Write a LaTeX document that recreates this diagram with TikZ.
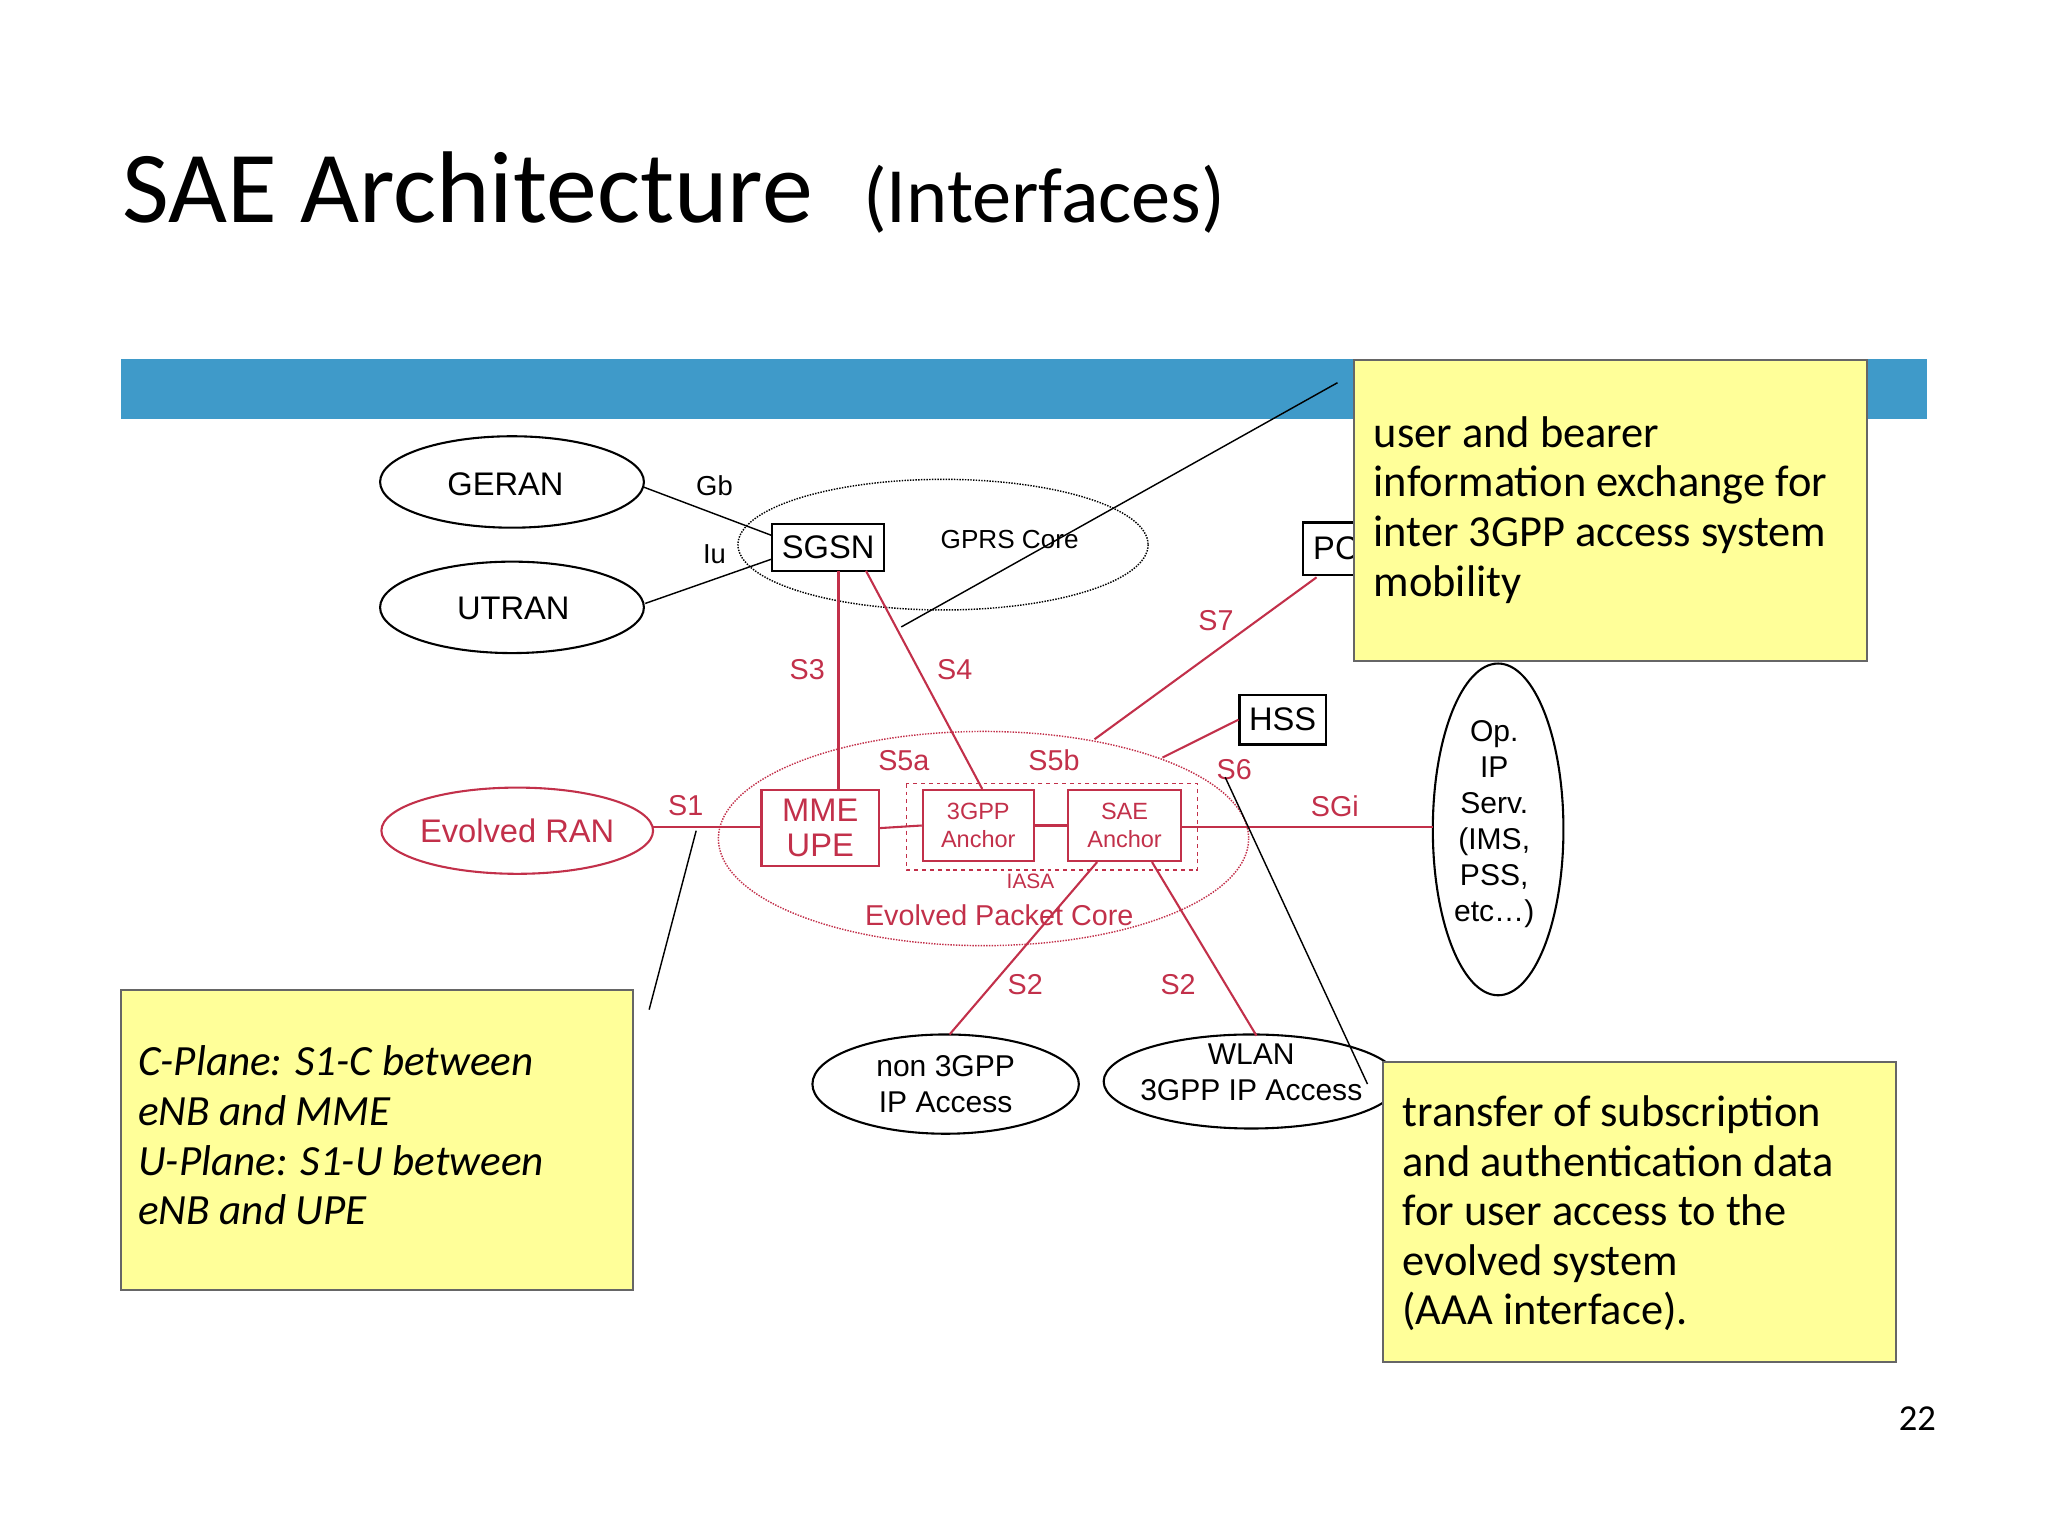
\documentclass[tikz,border=0pt]{standalone}
\usepackage{fontspec}
\setmainfont{Liberation Sans}
\newfontfamily\callf{Carlito}
\begin{document}
\begin{tikzpicture}[x=1pt,y=-1pt,line width=1.6pt]
\definecolor{rd}{HTML}{C2304A}
\definecolor{yl}{HTML}{FFFF99}
\definecolor{bl}{HTML}{3F9AC9}
\tikzset{
 rl/.style={rd,line width=1.6pt},
 thin1/.style={line width=1.1pt},
 bx/.style={draw,inner sep=2pt},
 rbx/.style={draw=rd,text=rd,align=center,inner sep=0pt},
 lab/.style={font=\fontsize{21}{21}\selectfont},
 rlab/.style={font=\fontsize{22}{22}\selectfont,text=rd},
 call/.style={draw=black!60,fill=yl,line width=1.5pt,anchor=north west,inner sep=0pt},
 ctext/.style={font=\callf\fontsize{34}{38}\selectfont,anchor=north west,align=left,inner sep=0pt}
}
\useasboundingbox (0,0) rectangle (1568,1176);
\node[anchor=base west,inner sep=0,font=\callf\fontsize{78}{78}\selectfont] (title) at (93,170) {SAE Architecture};
\node[anchor=base west,inner sep=0,font=\callf\fontsize{60}{60}\selectfont] (sub) at (660,170) {(Interfaces)};
\fill[bl] (93,275) rectangle (1475,321);
% GPRS core
\draw[densely dotted,thin1] (722,417) ellipse (157 and 50);
\node[font=\fontsize{20}{20}\selectfont] (gprs) at (773,413) {GPRS Core};
\draw (392,369) ellipse (101 and 35); \node[font=\fontsize{25}{25}\selectfont] (geran) at (387,371) {GERAN};
\draw (392,465) ellipse (101 and 35); \node[font=\fontsize{25}{25}\selectfont] (utran) at (393,466) {UTRAN};
\node[bx,minimum width=86,minimum height=36,font=\fontsize{25}{25}\selectfont] (sgsn) at (634,419) {SGSN};
\draw[thin1] (493,373) -- (591,410); \draw[thin1] (494,462) -- (591,428);
\node[lab] (gb) at (547,372) {Gb}; \node[lab] (iu) at (547,424) {Iu};
\node[bx,minimum width=44,minimum height=40,font=\fontsize{25}{25}\selectfont,anchor=west,inner sep=0pt] (pc) at (997,420) {\hspace*{6pt}PC};
\node[bx,minimum width=66,minimum height=38,font=\fontsize{25}{25}\selectfont] (hss) at (982,551) {HSS};
% EPC
\draw[rd,densely dotted,thin1] (753,642) ellipse (203 and 82);
\node[rlab] (epc) at (765,701) {Evolved Packet Core};
\draw[rd] (396,636) ellipse (104 and 33); \node[font=\fontsize{25}{25}\selectfont,text=rd] (eran) at (396,636) {Evolved RAN};
\coordinate (eranE) at (500,633);
\node[rbx,minimum width=90,minimum height=58,font=\fontsize{25}{27}\selectfont] (mme) at (628,634) {MME\\UPE};
\draw[rd,dashed,thin1] (694,600) rectangle (917,666);
\node[rlab,font=\fontsize{16}{16}\selectfont] (iasa) at (789,675) {IASA};
\node[rbx,minimum width=85,minimum height=55,font=\fontsize{18}{21}\selectfont] (a3) at (749,632) {3GPP\\Anchor};
\node[rbx,minimum width=87,minimum height=55,font=\fontsize{18}{21}\selectfont] (sae) at (861,632) {SAE\\Anchor};
\draw[rl] (eranE) -- (mme.west |- eranE); \node[rlab] (s1) at (525,617) {S1};
\draw[rl] (mme.east) -- (a3.west); \draw[rl] (a3.east) -- (sae.west);
\node[rlab] (s5a) at (692,582) {S5a}; \node[rlab] (s5b) at (807,582) {S5b};
\draw[rl] (642,437) -- (642,605); \draw[rl] (663,437) -- (752,604);
\node[rlab] (s3) at (618,513) {S3}; \node[rlab] (s4) at (731,513) {S4};
\draw[rl] (1008,442) -- (838,566); \node[rlab] (s7) at (931,475) {S7};
\draw[rl] (hss.west) -- (890,580); \node[rlab] (s6) at (945,589) {S6};
% Op IP
\draw (1147,635) ellipse (50 and 127);
\node[align=center,font=\fontsize{23}{27.5}\selectfont] (op) at (1144,631) {Op.\\IP\\Serv.\\(IMS,\\PSS,\\etc\ldots)};
\draw[rl] (sae.east |- 633,633) -- (1097,633); \node[rlab] (sgi) at (1022,617) {SGi};
% access
\draw (724,830) ellipse (102 and 38);
\node[align=center,font=\fontsize{23}{28}\selectfont] (n3) at (724,830) {non 3GPP\\IP Access};
\draw (958,828) ellipse (113 and 36);
\node[align=center,font=\fontsize{23}{28}\selectfont] (wlan) at (958,821) {WLAN\\3GPP IP Access};
\draw[rl] (840,660) -- (727,792); \draw[rl] (882,660) -- (962,793);
\node[rlab] (s2a) at (785,754) {S2}; \node[rlab] (s2b) at (902,754) {S2};
% callout lines
\draw[thin1] (1024,293) -- (690,480);
\draw[thin1] (938,595) -- (1047,830);
\draw[thin1] (533,636) -- (497,773);
% callouts
\node[call,minimum width=393,minimum height=230] (c1) at (1036,275) {};
\node[ctext] (c1t) at (1051,318) {user and bearer\\information exchange for\\inter 3GPP access system\\mobility};
\node[call,minimum width=392,minimum height=230] (c2) at (92,757) {};
\node[ctext,font=\callf\itshape\fontsize{33}{38}\selectfont] (c2t) at (105,800) {C-Plane: S1-C between\\eNB and MME\\U-Plane: S1-U between\\eNB and UPE};
\node[call,minimum width=393,minimum height=230] (c3) at (1058,812) {};
\node[ctext] (c3t) at (1073,838) {transfer of subscription\\and authentication data\\for user access to the\\evolved system\\(AAA interface).};
\node[font=\callf\fontsize{28}{28}\selectfont] (pg) at (1468,1086) {22};
\end{tikzpicture}
\end{document}
